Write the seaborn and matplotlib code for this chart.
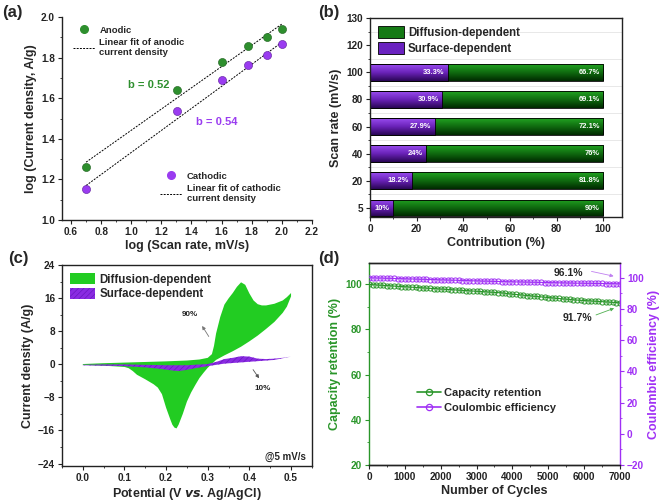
import numpy as np
import matplotlib.pyplot as plt
import seaborn as sns
from matplotlib.lines import Line2D
from matplotlib.patches import Patch
from matplotlib.ticker import MultipleLocator, FixedLocator
from matplotlib.colors import LinearSegmentedColormap

sns.set_style("ticks")
plt.rcParams['font.family'] = ['Liberation Sans', 'DejaVu Sans']
plt.rcParams['font.weight'] = 'bold'
plt.rcParams['axes.labelweight'] = 'bold'
plt.rcParams['hatch.linewidth'] = 0.5
plt.rcParams['axes.edgecolor'] = '#222222'
plt.rcParams['xtick.color'] = '#222222'
plt.rcParams['ytick.color'] = '#222222'

# ---- (a) log(i) vs log(v)
scan_rates = [5, 20, 40, 60, 80, 100]
log_anodic = [1.26, 1.64, 1.78, 1.855, 1.90, 1.94]
log_cathodic = [1.155, 1.535, 1.69, 1.765, 1.815, 1.865]
fit_x = [0.7, 2.0]
fit_anodic = [1.285, 1.965]
fit_cathodic = [1.17, 1.875]

# ---- (b) contribution bars
surface_pct = [10, 18.2, 24, 27.9, 30.9, 33.3]
diffusion_pct = [90, 81.8, 76, 72.1, 69.1, 66.7]
extra_ticks = ['120', '130']

# ---- (c) CV separation @5 mV/s
tot_v_fwd = [0.0, 0.05, 0.10, 0.15, 0.20, 0.25, 0.28, 0.30, 0.31, 0.315, 0.32, 0.33, 0.34, 0.35,
             0.36, 0.37, 0.38, 0.39, 0.40, 0.41, 0.42, 0.43, 0.44, 0.46, 0.48, 0.49, 0.50]
tot_i_fwd = [0.1, 0.3, 0.45, 0.6, 0.75, 0.95, 1.2, 1.6, 2.5, 4.5, 7.5, 11.5, 14.5, 16.0,
             17.3, 18.8, 19.9, 19.3, 17.2, 15.5, 14.6, 14.3, 14.3, 14.7, 15.5, 16.3, 17.3]
tot_v_rev = [0.50, 0.49, 0.48, 0.46, 0.44, 0.42, 0.40, 0.38, 0.36, 0.34, 0.32, 0.30, 0.29, 0.28,
             0.27, 0.26, 0.25, 0.24, 0.23, 0.225, 0.22, 0.215, 0.21, 0.20, 0.19, 0.18, 0.17,
             0.15, 0.13, 0.12, 0.11, 0.10, 0.05, 0.0]
tot_i_rev = [16.5, 14.0, 12.5, 10.3, 8.6, 7.0, 5.6, 4.3, 3.2, 2.2, 1.1, -0.8, -2.0, -3.3,
             -5.0, -6.8, -9.0, -12.0, -14.6, -15.5, -15.3, -14.6, -13.3, -10.5, -7.2, -5.6, -4.8,
             -3.6, -2.5, -1.6, -0.9, -0.6, -0.3, -0.1]
surf_v_fwd = [0.0, 0.05, 0.10, 0.15, 0.20, 0.25, 0.30, 0.32, 0.34, 0.36, 0.38, 0.40, 0.42, 0.44,
              0.46, 0.48, 0.50]
surf_i_fwd = [-0.1, 0.0, 0.0, -0.1, -0.2, -0.2, 0.1, 0.6, 1.3, 1.6, 2.0, 1.9, 1.4, 1.3,
              1.4, 1.6, 1.9]
surf_v_rev = [0.50, 0.46, 0.42, 0.38, 0.34, 0.30, 0.27, 0.25, 0.23, 0.21, 0.19, 0.15, 0.10, 0.05, 0.0]
surf_i_rev = [1.9, 1.1, 0.8, 0.5, 0.2, -0.4, -0.9, -1.3, -1.6, -1.4, -1.1, -0.7, -0.4, -0.3, -0.2]

# ---- (d) cycling stability
cycles = list(range(0, 7001, 100))
cap_retention = [100.0, 99.8, 99.7, 99.6, 99.5, 99.4, 99.3, 99.2, 99.1, 99.0, 98.9,
                 98.8, 98.7, 98.6, 98.5, 98.4, 98.3, 98.2, 98.1, 98.0, 97.9,
                 97.8, 97.7, 97.6, 97.5, 97.4, 97.3, 97.2, 97.1, 97.0, 96.9,
                 96.8, 96.7, 96.6, 96.5, 96.4, 96.3, 96.2, 96.0, 95.8, 95.6,
                 95.5, 95.3, 95.2, 95.0, 94.9, 94.7, 94.6, 94.4, 94.3, 94.1,
                 94.0, 93.8, 93.7, 93.5, 93.4, 93.3, 93.1, 93.0, 92.9, 92.8,
                 92.7, 92.6, 92.5, 92.4, 92.3, 92.2, 92.1, 92.0, 91.9, 91.7]
coul_eff = [100.0, 99.9, 99.8, 99.8, 99.7, 99.6, 99.6, 99.5, 99.4, 99.4, 99.3,
            99.2, 99.2, 99.1, 99.0, 99.0, 98.9, 98.8, 98.8, 98.7, 98.6,
            98.6, 98.5, 98.4, 98.4, 98.3, 98.2, 98.2, 98.1, 98.0, 98.0,
            97.9, 97.8, 97.8, 97.7, 97.6, 97.6, 97.5, 97.5, 97.4, 97.4,
            97.3, 97.3, 97.2, 97.2, 97.1, 97.1, 97.0, 97.0, 96.9, 96.9,
            96.8, 96.8, 96.7, 96.7, 96.6, 96.6, 96.5, 96.5, 96.5, 96.4,
            96.4, 96.4, 96.3, 96.3, 96.3, 96.2, 96.2, 96.2, 96.1, 96.1]

green_a, purple_a = '#2e8f2e', '#9a3cf0'
green_c, purple_c = '#22cc22', '#8a2be2'
green_d, purple_d = '#2a962a', '#a030f5'
TICK_FS, LABEL_FS = 7.2, 9


def style_ticks(ax):
    ax.tick_params(which='major', direction='out', length=3, width=0.8, labelsize=TICK_FS, pad=2)
    ax.tick_params(which='minor', direction='out', length=1.6, width=0.6)
    for lab in ax.get_xticklabels() + ax.get_yticklabels():
        lab.set_fontweight('bold')


fig = plt.figure(figsize=(6.61, 5.03), dpi=100)

# ================= (a)
ax_a = fig.add_axes([0.0938, 0.5626, 0.378, 0.4036])
log_scan = np.log10(scan_rates)
sns.lineplot(x=fit_x, y=fit_anodic, ax=ax_a, color='black', lw=0.7, ls=(0, (2, 1.3)))
sns.lineplot(x=fit_x, y=fit_cathodic, ax=ax_a, color='black', lw=0.7, ls=(0, (2, 1.3)))
sns.scatterplot(x=log_scan, y=log_anodic, ax=ax_a, color=green_a, s=34,
                edgecolor='#1b5e1b', linewidth=0.4, zorder=3)
sns.scatterplot(x=log_scan, y=log_cathodic, ax=ax_a, color=purple_a, s=34,
                edgecolor='#5a1a9a', linewidth=0.4, zorder=3)
ax_a.set_xlim(0.54, 2.2)
ax_a.set_ylim(1.0, 2.0)
ax_a.xaxis.set_major_locator(MultipleLocator(0.2))
ax_a.xaxis.set_minor_locator(MultipleLocator(0.1))
ax_a.yaxis.set_major_locator(MultipleLocator(0.2))
ax_a.yaxis.set_minor_locator(MultipleLocator(0.1))
ax_a.set_xlabel('log (Scan rate, mV/s)', fontsize=LABEL_FS, labelpad=2)
ax_a.set_ylabel('log (Current density, A/g)', fontsize=LABEL_FS, labelpad=3)
sns.despine(ax=ax_a)
style_ticks(ax_a)
h_an = [Line2D([], [], ls='', marker='o', color=green_a, ms=5.5),
        Line2D([], [], color='black', lw=0.7, ls=(0, (2, 1.3)))]
leg1 = ax_a.legend(h_an, ['Anodic', 'Linear fit of anodic\ncurrent density'], loc='upper left',
                   bbox_to_anchor=(0.01, 1.0), frameon=False, fontsize=6.8, handlelength=2.3,
                   handletextpad=0.5, labelspacing=0.35)
ax_a.add_artist(leg1)
h_ca = [Line2D([], [], ls='', marker='o', color=purple_a, ms=5.5),
        Line2D([], [], color='black', lw=0.7, ls=(0, (2, 1.3)))]
ax_a.legend(h_ca, ['Cathodic', 'Linear fit of cathodic\ncurrent density'], loc='upper left',
            bbox_to_anchor=(0.36, 0.28), frameon=False, fontsize=6.8, handlelength=2.3,
            handletextpad=0.5, labelspacing=0.35)
ax_a.text(0.978, 1.665, 'b = 0.52', color=green_a, fontsize=8, va='center')
ax_a.text(1.43, 1.483, 'b = 0.54', color=purple_a, fontsize=8, va='center')

# ================= (b)
ax_b = fig.add_axes([0.5598, 0.5686, 0.381, 0.3956])
cats = [str(s) for s in scan_rates]
totals = list(np.add(surface_pct, diffusion_pct))
sns.barplot(x=totals, y=cats, order=cats, orient='h', color='#1a8a1a', edgecolor='black',
            linewidth=0.6, width=0.62, ax=ax_b)
sns.barplot(x=surface_pct, y=cats, order=cats, orient='h', color='#7a2ad0', edgecolor='black',
            linewidth=0.6, width=0.62, ax=ax_b)
cmap_g = LinearSegmentedColormap.from_list('g', ['#002a00', '#0f6a0f', '#22a322'])
cmap_p = LinearSegmentedColormap.from_list('p', ['#2a0655', '#6a22b8', '#9a4cf0'])
grad = np.linspace(0, 1, 64).reshape(-1, 1)
for k, p in enumerate(list(ax_b.patches)):
    x0, y0 = p.get_x(), p.get_y()
    w, h = p.get_width(), p.get_height()
    im = ax_b.imshow(grad, cmap=cmap_g if k < 6 else cmap_p, aspect='auto', origin='lower',
                     extent=(x0, x0 + w, y0, y0 + h), zorder=0.8)
    im.set_clip_path(p)
    p.set_facecolor('none')
    p.set_zorder(1)
ax_b.set_xlim(0, 108)
ax_b.set_ylim(-0.33, 7)
for i in range(len(cats)):
    ax_b.text(surface_pct[i] - 1.5, i, f'{surface_pct[i]:g}%', ha='right', va='center',
              color='white', fontsize=5.4, zorder=4)
    ax_b.text(98.5, i, f'{diffusion_pct[i]:g}%', ha='right', va='center',
              color='white', fontsize=5.4, zorder=4)
ax_b.set_yticks(range(len(cats) + len(extra_ticks)))
ax_b.set_yticklabels(cats + extra_ticks)
ax_b.yaxis.set_minor_locator(FixedLocator(np.arange(-0.5, 7, 1.0)))
ax_b.xaxis.set_major_locator(MultipleLocator(20))
ax_b.xaxis.set_minor_locator(MultipleLocator(10))
ax_b.grid(axis='y', which='minor', color='#e4e4e4', lw=0.6)
ax_b.set_xlabel('Contribution (%)', fontsize=LABEL_FS, labelpad=2)
ax_b.set_ylabel('Scan rate (mV/s)', fontsize=LABEL_FS, labelpad=3)
style_ticks(ax_b)
ax_b.legend([Patch(facecolor='#157a15', edgecolor='black', lw=0.6),
             Patch(facecolor='#6a22c0', edgecolor='black', lw=0.6)],
            ['Diffusion-dependent', 'Surface-dependent'], loc='upper left',
            bbox_to_anchor=(0.0, 1.0), frameon=False, fontsize=8.3, handlelength=2.3,
            handleheight=1.3, handletextpad=0.35, labelspacing=0.25, borderaxespad=0.25)

# ================= (c)
ax_c = fig.add_axes([0.0938, 0.0736, 0.378, 0.3996])
ax_c.fill(tot_v_fwd + tot_v_rev, tot_i_fwd + tot_i_rev, color=green_c, lw=0, zorder=2)
ax_c.fill(surf_v_fwd + surf_v_rev, surf_i_fwd + surf_i_rev, facecolor=purple_c,
          edgecolor='#6a18c0', hatch='//////', lw=0, zorder=3)
ax_c.set_xlim(-0.05, 0.55)
ax_c.set_ylim(-24.6, 24.1)
ax_c.xaxis.set_major_locator(MultipleLocator(0.1))
ax_c.xaxis.set_minor_locator(MultipleLocator(0.05))
ax_c.yaxis.set_major_locator(MultipleLocator(8))
ax_c.yaxis.set_minor_locator(MultipleLocator(4))
ax_c.set_xlabel('Potential (V $\\mathbf{\\mathit{vs}}$. Ag/AgCl)', fontsize=LABEL_FS, labelpad=2)
ax_c.set_ylabel('Current density (A/g)', fontsize=LABEL_FS, labelpad=3)
style_ticks(ax_c)
ax_c.text(0.258, 12.1, '90%', fontsize=5.8, ha='center', va='center', color='#222222')
ax_c.annotate('', xy=(0.283, 9.9), xytext=(0.306, 6.2),
              arrowprops=dict(arrowstyle='-|>', color='#777777', lw=0.6, mutation_scale=5))
ax_c.text(0.432, -5.8, '10%', fontsize=5.8, ha='center', va='center', color='#222222')
ax_c.annotate('', xy=(0.427, -3.9), xytext=(0.405, -0.7),
              arrowprops=dict(arrowstyle='-|>', color='#555555', lw=0.6, mutation_scale=5))
ax_c.text(0.535, -22.3, '@5 mV/s', fontsize=7, ha='right', va='center')
ax_c.legend([Patch(facecolor=green_c, lw=0),
             Patch(facecolor=purple_c, edgecolor='#6a18c0', hatch='//////', lw=0)],
            ['Diffusion-dependent', 'Surface-dependent'], loc='upper left',
            bbox_to_anchor=(0.0, 1.0), frameon=False, fontsize=8.3, handlelength=2.2,
            handleheight=1.1, handletextpad=0.35, labelspacing=0.2, borderaxespad=0.3)

# ================= (d)
ax_d = fig.add_axes([0.5582, 0.0755, 0.3797, 0.4016])
ax_d2 = ax_d.twinx()
sns.lineplot(x=cycles, y=cap_retention, ax=ax_d, color=green_d, lw=0.8, marker='o',
             markersize=3.7, markerfacecolor='none', markeredgecolor=green_d, markeredgewidth=0.7)
sns.lineplot(x=cycles, y=coul_eff, ax=ax_d2, color=purple_d, lw=0.8, marker='o',
             markersize=3.7, markerfacecolor='none', markeredgecolor=purple_d, markeredgewidth=0.7)
ax_d.set_xlim(0, 7000)
ax_d.set_ylim(20, 109.4)
ax_d2.set_ylim(-20, 109.4)
ax_d.xaxis.set_major_locator(MultipleLocator(1000))
ax_d.xaxis.set_minor_locator(MultipleLocator(500))
ax_d.yaxis.set_major_locator(MultipleLocator(20))
ax_d.yaxis.set_minor_locator(MultipleLocator(10))
ax_d2.yaxis.set_major_locator(MultipleLocator(20))
ax_d2.yaxis.set_minor_locator(MultipleLocator(10))
ax_d.set_xlabel('Number of Cycles', fontsize=LABEL_FS, labelpad=2)
ax_d.set_ylabel('Capacity retention (%)', fontsize=LABEL_FS, color=green_d, labelpad=3)
ax_d2.set_ylabel('Coulombic efficiency (%)', fontsize=LABEL_FS, color=purple_d, labelpad=3)
style_ticks(ax_d)
style_ticks(ax_d2)
ax_d.tick_params(axis='y', which='both', colors=green_d)
ax_d2.tick_params(axis='y', which='both', colors=purple_d)
ax_d.spines['left'].set_color(green_d)
ax_d.spines['right'].set_visible(False)
ax_d2.spines['left'].set_visible(False)
ax_d2.spines['right'].set_color(purple_d)
for s in ['left', 'right', 'top', 'bottom']:
    ax_d.spines[s].set_linewidth(1.0)
    ax_d2.spines[s].set_linewidth(1.0)
ax_d2.text(5550, 103.2, '96.1%', fontsize=7.5, ha='center', va='center')
ax_d2.annotate('', xy=(6900, 100.6), xytext=(6130, 104.4),
               arrowprops=dict(arrowstyle='-|>', color='#c080f0', lw=0.6, mutation_scale=5))
ax_d.text(5815, 85.1, '91.7%', fontsize=7.5, ha='center', va='center')
ax_d.annotate('', xy=(6910, 89.8), xytext=(6260, 86.0),
              arrowprops=dict(arrowstyle='-|>', color='#50b050', lw=0.6, mutation_scale=5))
ax_d.legend([Line2D([], [], color=green_d, lw=1.2, marker='o', ms=4.5, mfc='none', mew=0.9),
             Line2D([], [], color=purple_d, lw=1.2, marker='o', ms=4.5, mfc='none', mew=0.9)],
            ['Capacity retention', 'Coulombic efficiency'], loc='upper left',
            bbox_to_anchor=(0.15, 0.43), frameon=False, fontsize=8, handlelength=2.2,
            handletextpad=0.3, labelspacing=0.4)

for ax in [ax_a, ax_b, ax_c]:
    for s in ax.spines.values():
        s.set_linewidth(1.0)

fig.text(0.003, 0.975, '(a)', fontsize=12, fontweight='bold', va='center')
fig.text(0.481, 0.975, '(b)', fontsize=12, fontweight='bold', va='center')
fig.text(0.012, 0.487, '(c)', fontsize=12, fontweight='bold', va='center')
fig.text(0.481, 0.487, '(d)', fontsize=12, fontweight='bold', va='center')

fig.savefig('out.png', dpi=100)
